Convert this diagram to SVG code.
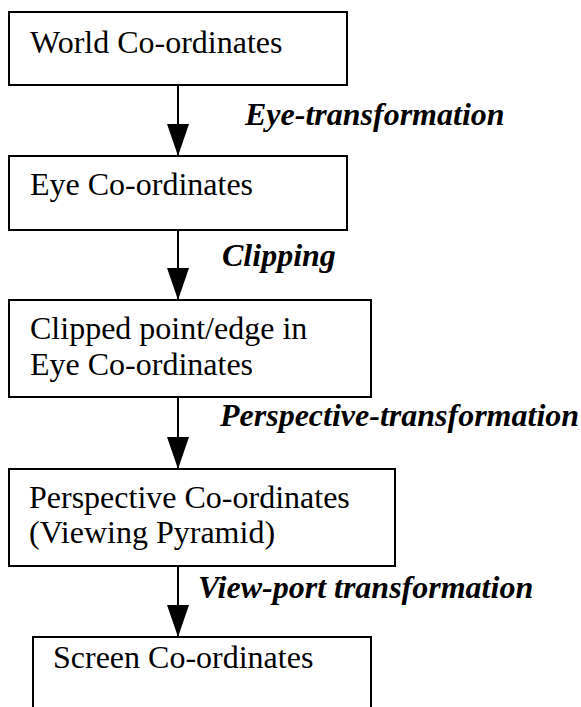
<svg xmlns="http://www.w3.org/2000/svg" width="581" height="707" viewBox="0 0 581 707">
  <style>
    .box { fill: #fff; stroke: #000; stroke-width: 2; }
    .txt { font-family: "Liberation Serif", "Times New Roman", serif; font-size: 32px; fill: #000; }
    .lbl { font-family: "Liberation Serif", "Times New Roman", serif; font-size: 32px; font-weight: bold; font-style: italic; fill: #000; }
    .edge { stroke: #000; stroke-width: 2; fill: none; marker-end: url(#head); }
  </style>
  <defs>
    <!-- filled triangular arrowhead, tip at the end of the line -->
    <marker id="head" markerUnits="userSpaceOnUse" markerWidth="32" markerHeight="22" viewBox="0 0 32 22" refX="32" refY="11" orient="auto">
      <path d="M0,0 L32,11 L0,22 Z" fill="#000"/>
    </marker>
  </defs>
  <rect width="581" height="707" fill="#fff"/>

  <g id="connectors">
    <line class="edge" x1="178" y1="85" x2="178" y2="156"/>
    <line class="edge" x1="178" y1="230" x2="178" y2="300"/>
    <line class="edge" x1="178" y1="397" x2="178" y2="469"/>
    <line class="edge" x1="178" y1="566" x2="178" y2="637"/>
    <text class="lbl" x="245" y="125">Eye-transformation</text>
    <text class="lbl" x="222" y="266">Clipping</text>
    <text class="lbl" x="220" y="426">Perspective-transformation</text>
    <text class="lbl" x="198" y="598">View-port transformation</text>
  </g>

  <g id="world">
    <rect class="box" x="9" y="12" width="338" height="73"/>
    <text class="txt" x="30" y="53">World Co-ordinates</text>
  </g>
  <g id="eye">
    <rect class="box" x="9" y="156" width="338" height="74"/>
    <text class="txt" x="30" y="195">Eye Co-ordinates</text>
  </g>
  <g id="clipped">
    <rect class="box" x="9" y="300" width="362" height="97"/>
    <text class="txt" x="30" y="339">Clipped point/edge in</text>
    <text class="txt" x="30" y="375">Eye Co-ordinates</text>
  </g>
  <g id="perspective">
    <rect class="box" x="9" y="469" width="386" height="97"/>
    <text class="txt" x="29" y="508">Perspective Co-ordinates</text>
    <text class="txt" x="29" y="543">(Viewing Pyramid)</text>
  </g>
  <g id="screen">
    <rect class="box" x="33" y="637" width="338" height="90"/>
    <text class="txt" x="53" y="668">Screen Co-ordinates</text>
  </g>
</svg>
